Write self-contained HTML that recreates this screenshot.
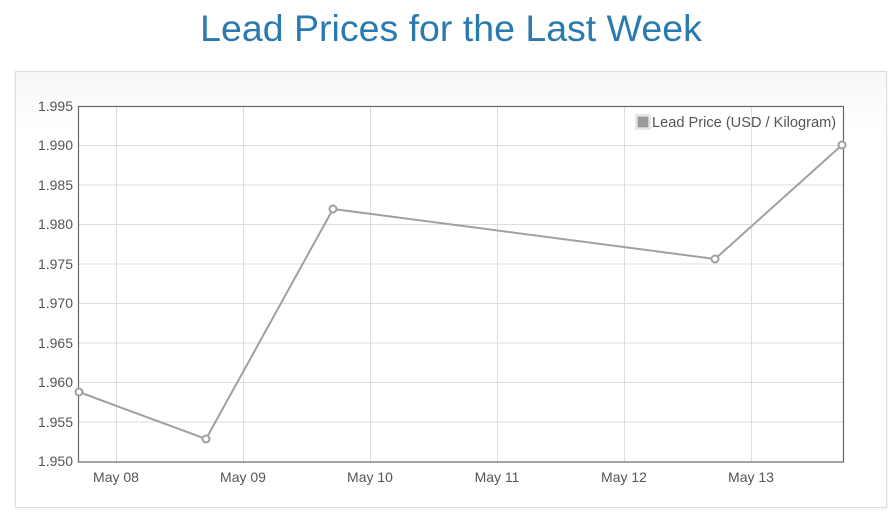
<!DOCTYPE html>
<html><head><meta charset="utf-8"><style>
body{margin:0;width:896px;height:519px;background:#fff;font-family:"Liberation Sans",sans-serif;overflow:hidden}
h1{margin:0;position:absolute;top:7px;left:0;width:902px;text-align:center;font-weight:normal;font-size:37.5px;color:#2a7ab0}
.panel{position:absolute;left:15px;top:71px;width:870px;height:435px;border:1px solid #ddd;background:linear-gradient(#f7f7f7,#fff 60px);box-shadow:0 1px 3px rgba(0,0,0,.05)}
svg{position:absolute;left:0;top:0}
</style></head><body>
<h1>Lead Prices for the Last Week</h1>
<div class="panel"></div>
<svg width="896" height="519" font-family="Liberation Sans, sans-serif" font-size="14" fill="#555">
<rect x="78" y="106" width="765" height="356" fill="#fff"/>
<g stroke="#ddd" stroke-width="1">
<line x1="78" x2="843" y1="145.5" y2="145.5"/><line x1="78" x2="843" y1="185" y2="185"/><line x1="78" x2="843" y1="224.5" y2="224.5"/><line x1="78" x2="843" y1="264" y2="264"/><line x1="78" x2="843" y1="303.5" y2="303.5"/><line x1="78" x2="843" y1="343" y2="343"/><line x1="78" x2="843" y1="382.5" y2="382.5"/><line x1="78" x2="843" y1="422" y2="422"/>
<line x1="116.5" x2="116.5" y1="106" y2="462"/><line x1="243.5" x2="243.5" y1="106" y2="462"/><line x1="370.5" x2="370.5" y1="106" y2="462"/><line x1="497.5" x2="497.5" y1="106" y2="462"/><line x1="624.5" x2="624.5" y1="106" y2="462"/><line x1="751.5" x2="751.5" y1="106" y2="462"/>
</g>
<rect x="78.5" y="106.5" width="765" height="355.5" fill="none" stroke="#666" stroke-width="1.2"/>
<g text-anchor="end">
<text x="73" y="111">1.995</text><text x="73" y="150">1.990</text><text x="73" y="190">1.985</text><text x="73" y="229">1.980</text><text x="73" y="269">1.975</text><text x="73" y="308">1.970</text><text x="73" y="348">1.965</text><text x="73" y="387">1.960</text><text x="73" y="427">1.955</text><text x="73" y="466">1.950</text>
</g>
<g text-anchor="middle">
<text x="116" y="482">May 08</text><text x="243" y="482">May 09</text><text x="370" y="482">May 10</text><text x="497" y="482">May 11</text><text x="624" y="482">May 12</text><text x="751" y="482">May 13</text>
</g>
<polyline points="79,392 206,439 333,209 715,259 842,145" fill="none" stroke="#a0a0a0" stroke-width="2"/>
<g fill="#fff" stroke="#a0a0a0" stroke-width="2">
<circle cx="79" cy="392" r="3.5"/><circle cx="206" cy="439" r="3.5"/><circle cx="333" cy="209" r="3.5"/><circle cx="715" cy="259" r="3.5"/><circle cx="842" cy="145" r="3.5"/>
</g>
<rect x="636" y="115" width="14" height="14" fill="#fff" stroke="#ccc"/>
<rect x="637.5" y="116.5" width="11" height="11" fill="#999"/>
<text x="652" y="127" font-size="14.6">Lead Price (USD / Kilogram)</text>
</svg>
</body></html>
